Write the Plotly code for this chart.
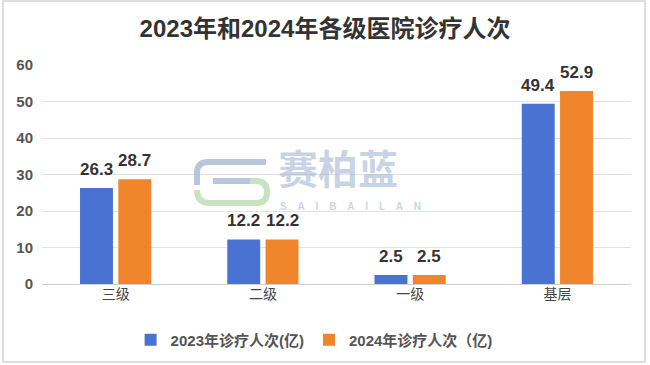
import plotly.graph_objects as go

categories = ["三级", "二级", "一级", "基层"]
values_2023 = [26.3, 12.2, 2.5, 49.4]
values_2024 = [28.7, 12.2, 2.5, 52.9]
series_names = ["2023年诊疗人次(亿)", "2024年诊疗人次（亿)"]
y_ticks = [0, 10, 20, 30, 40, 50, 60]

FONT = "Liberation Sans, Noto Sans CJK SC"
BLUE = "#4A72D2"
ORANGE = "#F0852C"
BARGAP = 0.48

# plot-area geometry (pixels) used only for placing decorative watermark / frame
L, R, T, B, W, H = 42, 19, 65, 81, 650, 365
PW, PH = W - L - R, H - T - B


def px(x):
    return (x - L) / PW


def py(y):
    return (H - B - y) / PH


fig = go.Figure()
series = [(series_names[0], values_2023, BLUE), (series_names[1], values_2024, ORANGE)]
for name, vals, col in series:
    fig.add_trace(go.Bar(
        x=categories, y=vals, name=name, marker=dict(color=col, line=dict(width=0)),
    ))

# value labels above each bar (offset to the grouped bar centres)
slot = PW / len(categories) * (1 - BARGAP) / 2
for k, (name, vals, col) in enumerate(series):
    shift = (k - 0.5) * slot
    for cat, v in zip(categories, vals):
        fig.add_annotation(x=cat, y=v, xref="x", yref="y", text=f"{v:.1f}", showarrow=False,
                           xanchor="center", yanchor="bottom", xshift=shift, yshift=7,
                           font=dict(family=FONT, size=17, color="#333333", weight="bold"))

fig.update_layout(
    width=W, height=H,
    margin=dict(l=L, r=R, t=T, b=B, autoexpand=False),
    paper_bgcolor="white", plot_bgcolor="white",
    title=dict(text="2023年和2024年各级医院诊疗人次", x=0.5, xanchor="center", y=0.922, yanchor="middle",
               font=dict(family=FONT, size=24, color="#333333", weight="bold")),
    barmode="group", bargap=BARGAP, bargroupgap=0.14,
    showlegend=True,
    legend=dict(orientation="h", x=0.462, xanchor="center", y=-0.256, yanchor="middle",
                font=dict(family=FONT, size=15, color="#555555", weight="bold"),
                itemwidth=30, traceorder="normal"),
    xaxis=dict(showgrid=False, showline=False, ticks="", zeroline=False, automargin=False,
               tickfont=dict(family=FONT, size=14, color="#444444")),
    yaxis=dict(range=[0, 60], tickvals=y_ticks, showgrid=True, gridcolor="#E2E2E2", gridwidth=1,
               zeroline=True, zerolinecolor="#D0D0D0", zerolinewidth=1, showline=False, ticks="",
               automargin=False,
               tickfont=dict(family=FONT, size=15, color="#555555", weight="bold"), ticklabelstandoff=8),
)

# watermark text
fig.add_annotation(text="赛柏蓝", xref="paper", yref="paper", x=px(276), y=py(167), xanchor="left", yanchor="middle",
                   showarrow=False, font=dict(family="Noto Sans CJK SC", size=40, color="rgba(130,158,196,0.45)", weight="bold"))
fig.add_annotation(text="S    A    I    B    A    I    L    A    N", xref="paper", yref="paper", x=px(278), y=py(206),
                   xanchor="left", yanchor="middle", showarrow=False,
                   font=dict(family=FONT, size=10, color="rgba(150,170,195,0.5)", weight="bold"))


# watermark logo
def P(x, y):
    return f"{px(x):.5f},{py(y):.5f}"


blue_path = (f"M {P(266,162)} L {P(208,162)} Q {P(197,162)} {P(197,173)} L {P(197,185)} "
             f"M {P(213,181)} L {P(250,181)}")
green_path = (f"M {P(250,181)} L {P(256,181)} Q {P(267,181)} {P(267,192)} Q {P(267,203)} {P(256,203)} "
              f"L {P(210,203)} Q {P(197,203)} {P(197,190)}")
fig.add_shape(type="path", xref="paper", yref="paper", path=blue_path,
              line=dict(color="rgba(160,180,208,0.75)", width=6))
fig.add_shape(type="path", xref="paper", yref="paper", path=green_path,
              line=dict(color="rgba(180,218,170,0.75)", width=6))

# outer frame
fig.add_shape(type="rect", xref="paper", yref="paper", x0=px(3), x1=px(645), y0=py(362), y1=py(1),
              line=dict(color="#DDDDDD", width=2), fillcolor="rgba(0,0,0,0)", layer="below")

fig.write_html("out.html", config={"displayModeBar": False},
               post_script="document.body.style.margin='0px';")
